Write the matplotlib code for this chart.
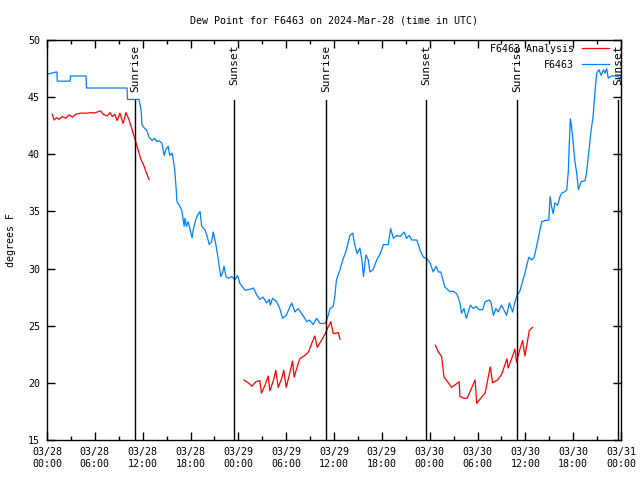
import pandas as pd
import matplotlib
matplotlib.use("Agg")
from matplotlib import pyplot as plt
import matplotlib.dates as mdates

# hours after 2024-03-28 00:00 UTC, dew point in degrees F
obs_hours = [0, 1.13, 1.25, 1.29, 2.89, 2.95, 4.89, 4.95, 10.04, 10.1, 11.54, 11.8, 11.9,
             12.2, 12.5, 12.8, 13.2, 13.5, 13.8, 14.0, 14.4, 14.7, 14.9, 15.2, 15.4, 15.7,
             15.8, 16.0, 16.2, 16.3, 16.7, 16.9, 17.2, 17.3, 17.5, 17.7, 17.9, 18.2, 18.35,
             18.65, 18.9, 19.2, 19.4, 19.8, 20.1, 20.35, 20.65, 20.85, 21.15, 21.4, 21.6,
             21.8, 22.05, 22.2, 22.45, 22.75, 23.15, 23.6, 23.9, 24.2, 24.85, 25.5, 25.9,
             26.1, 26.3, 26.7, 27.1, 27.55, 27.9, 28.0, 28.3, 28.8, 29.2, 29.55, 30.0, 30.7,
             31.1, 31.5, 32.1, 32.6, 32.9, 33.4, 33.8, 34.25, 34.9, 35.1, 35.5, 35.9, 36.1,
             36.3, 36.75, 37.1, 37.5, 38.0, 38.35, 38.6, 38.9, 39.25, 39.5, 39.7, 40.0, 40.3,
             40.5, 40.9, 41.35, 41.8, 42.2, 42.8, 43.1, 43.45, 43.9, 44.3, 44.8, 45.1, 45.45,
             45.75, 46.4, 46.8, 47.2, 47.6, 48.05, 48.45, 48.8, 49.1, 49.4, 49.9, 50.5, 51.0,
             51.4, 51.8, 52.0, 52.3, 52.6, 53.1, 53.5, 53.8, 54.2, 54.65, 54.95, 55.5, 55.7,
             56.0, 56.3, 56.6, 57.0, 57.3, 57.65, 58.0, 58.4, 58.7, 59.0, 59.3, 59.7, 59.95,
             60.25, 60.45, 60.8, 61.1, 61.4, 61.85, 62.05, 62.45, 62.95, 63.1, 63.3, 63.5,
             63.7, 64.05, 64.35, 64.55, 64.9, 65.2, 65.4, 65.5, 65.65, 65.8, 66.0, 66.2,
             66.45, 66.65, 67.0, 67.5, 67.7, 67.9, 68.25, 68.5, 68.7, 68.95, 69.25, 69.5,
             69.8, 70.0, 70.2, 70.4, 70.75, 71.25, 71.65, 71.9]
obs_dewpt = [47.0, 47.2, 47.2, 46.4, 46.4, 46.85, 46.85, 45.8, 45.8, 44.8, 44.8, 43.9, 42.6,
             42.3, 42.1, 41.5, 41.2, 41.4, 41.1, 41.2, 41.0, 39.9, 40.4, 40.7, 39.9, 40.1,
             39.65, 38.8, 37.0, 35.85, 35.4, 35.1, 33.7, 34.4, 33.7, 34.1, 33.55, 32.7, 33.4,
             34.25, 34.7, 35.0, 33.7, 33.4, 32.8, 32.1, 32.35, 33.2, 32.2, 31.2, 30.2,
             29.3, 29.7, 30.2, 29.3, 29.15, 29.3, 29.05, 29.4, 28.7, 28.1, 28.2, 28.3,
             28.0, 27.7, 27.3, 27.5, 27.0, 27.3, 26.8, 27.4, 27.1, 26.5, 25.65, 25.9, 27.0,
             26.2, 26.5, 25.9, 25.35, 25.5, 25.1, 25.65, 25.2, 25.2, 25.5, 26.5, 26.7, 27.55,
             29.0, 29.9, 30.75, 31.5, 32.9, 33.1, 32.1, 31.3, 31.8, 30.75, 29.3, 31.2, 30.75,
             29.7, 29.9, 30.75, 31.3, 32.1, 32.1, 33.5, 32.65, 32.9, 32.8, 33.2, 32.65, 32.9,
             32.5, 32.5, 31.6, 31.0, 30.9, 30.5, 29.7, 30.2, 29.7, 29.7, 28.4, 28.0, 28.0,
             27.8, 27.0, 26.1, 26.5, 25.65, 26.8, 26.5, 26.7, 26.4, 26.4, 27.1, 27.25, 27.0,
             25.9, 26.5, 26.2, 26.8, 26.4, 25.9, 27.0, 26.2, 27.1, 27.7, 28.0, 29.0, 29.6,
             30.5, 31.0, 30.75, 31.0, 31.9, 33.4, 34.1, 34.2, 34.25, 36.3, 35.4, 34.8,
             35.75, 35.55, 36.3, 36.6, 36.7, 36.9, 38.6, 40.7, 43.1, 42.4, 41.0, 39.5,
             38.3, 36.9, 37.6, 37.7, 38.5, 39.8, 42.1, 43.3, 45.2, 47.1, 47.4, 46.9,
             47.4, 47.1, 47.5, 46.65, 46.85, 46.85, 46.8, 46.5]

# analysis segments (gaps between them are not drawn)
ana1_hours = [0.66, 0.88, 1.2, 1.5, 1.9, 2.35, 2.75, 3.2, 3.6, 4.2, 5.05, 5.7, 5.9, 6.7, 7.05,
              7.55, 7.9, 8.2, 8.5, 8.8, 9.15, 9.55, 9.9, 10.3, 10.7, 11.0, 11.3, 11.75,
              12.1, 12.4, 12.8]
ana1_dewpt = [43.5, 43.0, 43.2, 43.05, 43.3, 43.15, 43.45, 43.25, 43.5, 43.6, 43.6, 43.65,
              43.6, 43.8, 43.5, 43.35, 43.65, 43.3, 43.5, 42.95, 43.6, 42.7, 43.65, 43.0,
              42.1, 41.4, 40.7, 39.6, 39.1, 38.5, 37.8]
ana2_hours = [24.7, 25.25, 25.7, 26.2, 26.7, 26.9, 27.35, 27.75, 27.95, 28.4, 28.7, 29.0,
              29.45, 29.7, 30.0, 30.4, 30.8, 31.0, 31.25, 31.7, 32.35, 32.8, 33.2, 33.6,
              33.9, 34.45, 34.9, 35.2, 35.5, 35.6, 35.9, 36.55, 36.75]
ana2_dewpt = [20.25, 20.0, 19.7, 20.1, 20.2, 19.1, 19.8, 20.6, 19.3, 20.2, 21.1, 19.6,
              20.4, 21.1, 19.6, 20.7, 21.9, 20.5, 21.1, 22.1, 22.4, 22.7, 23.45, 24.1,
              23.1, 23.75, 24.3, 24.8, 25.2, 25.35, 24.3, 24.4, 23.8]
ana3_hours = [48.7, 49.1, 49.5, 49.8, 50.35, 50.75, 51.7, 51.8, 52.3, 52.7, 53.7, 53.9, 54.4,
              54.95, 55.6, 55.9, 56.5, 57.0, 57.7, 57.85, 58.3, 58.7, 58.9, 59.3, 59.65,
              59.95, 60.5, 60.9]
ana3_dewpt = [23.3, 22.7, 22.3, 20.5, 20.0, 19.6, 20.1, 18.8, 18.65, 18.65, 20.25, 18.2,
              18.65, 19.1, 21.4, 20.0, 20.25, 20.7, 22.1, 21.3, 22.15, 22.95, 21.8, 22.9,
              23.7, 22.35, 24.6, 24.85]

sun_hours = [11.04, 23.46, 35.0, 47.54, 58.96, 71.63]
sun_labels = ["Sunrise", "Sunset", "Sunrise", "Sunset", "Sunrise", "Sunset"]

start = pd.Timestamp("2024-03-28 00:00")


def to_time(hours):
    return start + pd.to_timedelta(hours, unit="h")


plt.rcParams['font.family'] = ['DejaVu Sans Mono']
plt.rcParams['font.size'] = 7.2

fig = plt.figure(figsize=(6.4, 4.8), dpi=100)
ax = fig.add_axes([47 / 640, 40 / 480, 574 / 640, 400 / 480])

red = '#ff0000'
blue = '#0080ff'

ax.plot(to_time(ana1_hours), ana1_dewpt, color=red, lw=0.9, label="F6463 Analysis")
ax.plot(to_time(ana2_hours), ana2_dewpt, color=red, lw=0.9)
ax.plot(to_time(ana3_hours), ana3_dewpt, color=red, lw=0.9)
ax.plot(to_time(obs_hours), obs_dewpt, color=blue, lw=0.9, label="F6463")

# sunrise / sunset markers
for h, lab in zip(sun_hours, sun_labels):
    t = to_time(h)
    ax.axvline(t, ymin=0, ymax=0.85, color='black', lw=1)
    ax.text(t, 0.988, lab, transform=ax.get_xaxis_transform(), rotation=90,
            ha='center', va='top', fontsize=8)

ax.set_xlim(start, to_time(72))
ax.set_ylim(15, 50)
ax.set_yticks(range(15, 51, 5))

ax.xaxis.set_major_locator(mdates.HourLocator(byhour=[0, 6, 12, 18]))
ax.xaxis.set_minor_locator(mdates.HourLocator(byhour=[3, 9, 15, 21]))
ax.xaxis.set_major_formatter(mdates.DateFormatter('%m/%d\n%H:%M'))

ax.tick_params(which='both', direction='in', top=True, right=True, width=1)
ax.tick_params(which='major', length=6, pad=5)
ax.tick_params(which='minor', length=3)
for s in ax.spines.values():
    s.set_linewidth(1)

ax.set_ylabel("degrees F", labelpad=9)
ax.set_title("Dew Point for F6463 on 2024-Mar-28 (time in UTC)", pad=12, fontsize=7.2)

ax.legend(loc='upper right', bbox_to_anchor=(0.986, 1.0), frameon=False,
          markerfirst=False, handlelength=2.7, borderaxespad=0, borderpad=0.4,
          labelspacing=0.6, handletextpad=0.8, fontsize=7.2)

fig.savefig("out.png", dpi=100)
